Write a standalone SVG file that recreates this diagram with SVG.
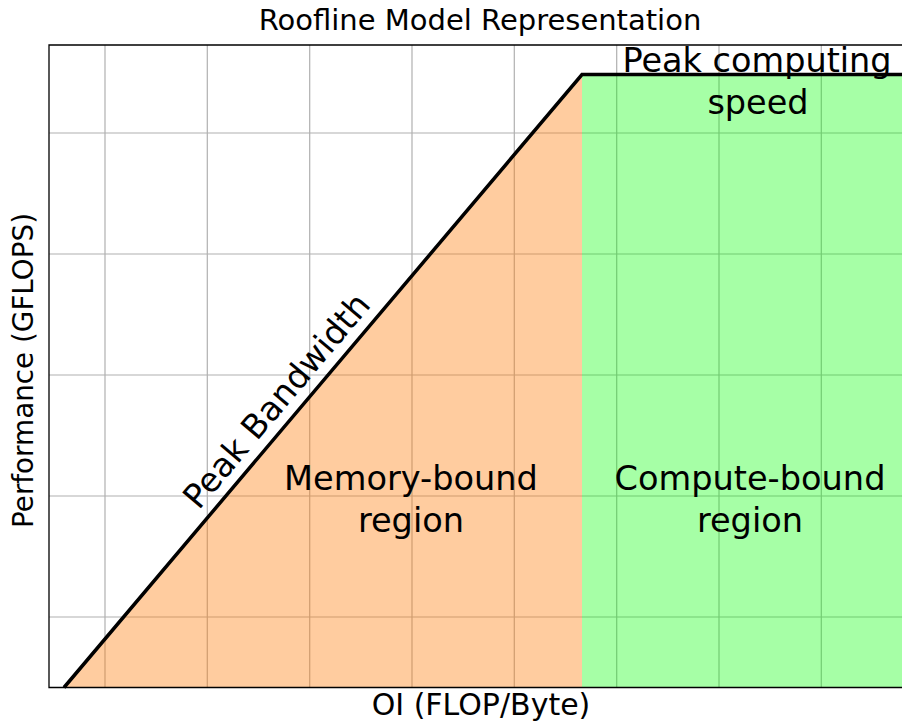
<svg xmlns="http://www.w3.org/2000/svg" width="902" height="726" viewBox="0 0 902 726">
<style>
text{font-family:"DejaVu Sans","Liberation Sans",sans-serif;fill:#000}
.grid line{stroke:#b0b0b0;stroke-width:1.2}
.spine{stroke:#000;stroke-width:1.3;fill:none}
.lbl{font-size:27.8px;text-anchor:middle}
.reg{font-size:33.6px;text-anchor:middle}
.big{font-size:33.5px;text-anchor:middle}
</style>
<rect width="902" height="726" fill="#fff"/>
<g id="grid" class="grid">
<line x1="105" y1="45" x2="105" y2="687.5"/>
<line x1="207.3" y1="45" x2="207.3" y2="687.5"/>
<line x1="309.7" y1="45" x2="309.7" y2="687.5"/>
<line x1="412" y1="45" x2="412" y2="687.5"/>
<line x1="514.3" y1="45" x2="514.3" y2="687.5"/>
<line x1="616.7" y1="45" x2="616.7" y2="687.5"/>
<line x1="719" y1="45" x2="719" y2="687.5"/>
<line x1="821.3" y1="45" x2="821.3" y2="687.5"/>
<line x1="49" y1="133" x2="902" y2="133"/>
<line x1="49" y1="254" x2="902" y2="254"/>
<line x1="49" y1="375" x2="902" y2="375"/>
<line x1="49" y1="496" x2="902" y2="496"/>
<line x1="49" y1="617" x2="902" y2="617"/>
</g>
<g id="regions">
<polygon id="memory-fill" points="64,687.5 582,74.5 582,687.5" fill="#ff7f0e" fill-opacity="0.4"/>
<rect id="compute-fill" x="582" y="74.5" width="330" height="613" fill="#00ff00" fill-opacity="0.35"/>
</g>
<g id="roofline">
<polyline points="64,687.5 582,74.5 910,74.5" fill="none" stroke="#000" stroke-width="3.5" stroke-linejoin="miter"/>
</g>
<g id="axes">
<polyline class="spine" points="912,45 49,45 49,687.5 912,687.5"/>
</g>
<g id="labels">
<text class="lbl" x="480" y="30" style="font-size:29px">Roofline Model Representation</text>
<text class="lbl" x="481" y="715" style="font-size:30px">OI (FLOP/Byte)</text>
<text class="lbl" transform="translate(33,370.5) rotate(-90)">Performance (GFLOPS)</text>
<text class="big" transform="translate(285.3,408.1) rotate(-49.8)">Peak Bandwidth</text>
<text class="big" x="757" y="72">Peak computing</text>
<text class="big" x="758" y="113.5">speed</text>
<text class="reg" x="411" y="490">Memory-bound</text>
<text class="reg" x="411" y="532">region</text>
<text class="reg" x="750" y="490">Compute-bound</text>
<text class="reg" x="750" y="532">region</text>
</g>
</svg>
